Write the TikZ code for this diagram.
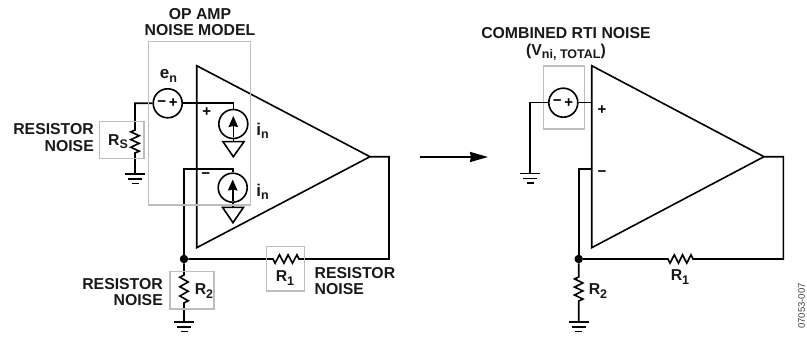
\documentclass[tikz,border=0pt]{standalone}
\usepackage{fontspec}
\setmainfont{Liberation Sans}
\usetikzlibrary{arrows.meta,calc}
\definecolor{boxgray}{RGB}{190,190,190}
\newcommand{\subx}[1]{\raisebox{-3.2pt}{\fontsize{12.5}{12.5}\selectfont #1}}
\tikzset{
  x=1pt,y=-1pt,
  wire/.style={line width=1.6pt,line join=miter,black},
  graybox/.style={draw=boxgray,line width=1.3pt},
  lab/.style={font=\bfseries\fontsize{15.8}{16.4}\selectfont,inner sep=0pt,text=black!90},
  biglab/.style={font=\bfseries\fontsize{17}{17}\selectfont,inner sep=0pt,text=black!90},
  srcc/.style={circle,draw=black,line width=1.6pt,fill=white,minimum size=29pt,inner sep=0pt},
  sym/.style={font=\bfseries\fontsize{15}{15}\selectfont,inner sep=0pt},
  junc/.style={circle,fill=black,minimum size=8.5pt,inner sep=0pt},
  headsrc/.style={-{Stealth[length=11pt,width=9.5pt,inset=1pt]}},
}
\newcommand{\zigv}[2]{% vertical resistor from #1 to #2
  ($(#1)!0.08!(#2)+(-4.2,0)$) -- ($(#1)!0.25!(#2)+(4.2,0)$) -- ($(#1)!0.42!(#2)+(-4.2,0)$) -- ($(#1)!0.58!(#2)+(4.2,0)$) -- ($(#1)!0.75!(#2)+(-4.2,0)$) -- ($(#1)!0.92!(#2)+(4.2,0)$) -- (#2)}
\newcommand{\zigh}[2]{% horizontal resistor from #1 to #2
  ($(#1)!0.08!(#2)+(0,-4.2)$) -- ($(#1)!0.25!(#2)+(0,4.2)$) -- ($(#1)!0.42!(#2)+(0,-4.2)$) -- ($(#1)!0.58!(#2)+(0,4.2)$) -- ($(#1)!0.75!(#2)+(0,-4.2)$) -- ($(#1)!0.92!(#2)+(0,4.2)$) -- (#2)}
\newcommand{\gnd}[1]{%
  \draw[wire] ($(#1)+(-10,0)$) -- ($(#1)+(10,0)$);
  \draw[wire] ($(#1)+(-7,5)$) -- ($(#1)+(7,5)$);
  \draw[wire] ($(#1)+(-3.5,9.5)$) -- ($(#1)+(3.5,9.5)$);}
\begin{document}
\begin{tikzpicture}
\useasboundingbox (0,0) rectangle (807,337);
% LEFT circuit coordinates
\coordinate (ampT) at (196.7,65.7);
\coordinate (ampB) at (196.7,247.7);
\coordinate (ampO) at (370,156.7);
\node[srcc] (en) at (167.7,103.3) {};
\node[srcc] (in1) at (233.3,124) {};
\node[srcc] (in2) at (232.7,187.7) {};
\node[junc] (j) at (184,259) {};
\coordinate (cL) at (135,103.3);
\coordinate (rsT) at (135,130);
\coordinate (rsB) at (135,153);
\coordinate (gL) at (135,174);
\coordinate (c1) at (233.3,103.3);
\coordinate (c2) at (184,169);
\coordinate (c3) at (232.7,169);
\coordinate (c4) at (389,156.7);
\coordinate (c5) at (389,259);
\coordinate (r1R) at (299,259);
\coordinate (r1L) at (273,259);
\coordinate (r2T) at (184,275);
\coordinate (r2B) at (184,303);
\coordinate (gR) at (184,322);
\draw[wire] (ampT) -- (ampO) -- (ampB) -- cycle;
\draw[wire] (en.west) -- (cL) -- (rsT) -- \zigv{rsT}{rsB} -- (gL);
\gnd{gL}
\draw[wire] (en.east) -- (c1) -- (in1.north);
\draw[wire] (j) -- (c2) -- (c3) -- (in2.north);
\draw[wire] (ampO) -- (c4) -- (c5) -- (r1R) -- \zigh{r1R}{r1L} -- (j);
\draw[wire] (j) -- (r2T) -- \zigv{r2T}{r2B} -- (gR);
\gnd{gR}
% current-source symbols
\node[sym] at ($(en)+(-6,0)$) {−};
\node[sym] at ($(en)+(5.5,0)$) {+};
\coordinate (t1) at (233.3,156.7);
\coordinate (t2) at (233,222.7);
\draw[wire,fill=white] (223,141.7) -- (244,141.7) -- (t1) -- cycle;
\draw[wire,fill=white] (222.5,207.3) -- (243.5,207.3) -- (t2) -- cycle;
\draw[wire] (in1.south) -- (233.3,141.7);
\draw[wire] (in2.south) -- (232.7,207.3);
\draw[wire,headsrc] (233.3,137) -- (233.3,116);
\draw[wire,headsrc] (232.7,200.5) -- (232.7,179.5);
\node[sym] at (206.7,112) {+};
\node[sym] at (205.7,176) {−};
% gray boxes
\draw[graybox] (148.7,41.3) rectangle (250.3,205);
\draw[graybox] (99.3,121.7) rectangle (144,158.3);
\draw[graybox] (266.7,246.7) rectangle (304.3,291);
\draw[graybox] (170,271.7) rectangle (214,309);
\draw[graybox] (543.3,66) rectangle (584.7,129);
% left labels
\node[lab,align=center] (t0) at (200,22) {OP AMP\\NOISE MODEL};
\node[biglab] at (168.5,76) {e\subx{n}};
\node[biglab] at (262.5,131) {i\subx{n}};
\node[biglab] at (262.5,192) {i\subx{n}};
\node[lab,align=right,anchor=east] at (94,137.5) {RESISTOR\\NOISE};
\node[lab] at (118,142) {R\subx{S}};
\node[lab] at (285,278) {R\subx{1}};
\node[lab] at (204,291) {R\subx{2}};
\node[lab,align=right,anchor=east] at (163,292) {RESISTOR\\NOISE};
\node[lab,align=left,anchor=west] at (314.5,281) {RESISTOR\\NOISE};
% arrow
\coordinate (aS) at (420,157);
\coordinate (aE) at (488,157);
\draw[line width=2pt,-{Stealth[length=18pt,width=10pt,inset=1pt]}] (aS) -- (aE);
% RIGHT circuit
\coordinate (bT) at (591.7,65.7);
\coordinate (bB) at (591.7,247.7);
\coordinate (bO) at (764,156.7);
\node[srcc] (en2) at (563.3,102.7) {};
\node[junc] (j2) at (578.7,259) {};
\coordinate (dL) at (530,102.7);
\coordinate (gL2) at (530,173.5);
\coordinate (dP) at (591.7,102.7);
\coordinate (dM) at (591.7,169);
\coordinate (dM2) at (578.7,169);
\coordinate (d4) at (783.3,156.7);
\coordinate (d5) at (783.3,259);
\coordinate (s1R) at (693,259);
\coordinate (s1L) at (668,259);
\coordinate (s2T) at (578.7,277);
\coordinate (s2B) at (578.7,301);
\coordinate (gR2) at (578.7,322);
\draw[wire] (bT) -- (bO) -- (bB) -- cycle;
\draw[wire] (en2.west) -- (dL) -- (gL2);
\gnd{gL2}
\draw[wire] (en2.east) -- (dP);
\draw[wire] (dM) -- (dM2) -- (j2);
\draw[wire] (bO) -- (d4) -- (d5) -- (s1R) -- \zigh{s1R}{s1L} -- (j2);
\draw[wire] (j2) -- (s2T) -- \zigv{s2T}{s2B} -- (gR2);
\gnd{gR2}
\node[sym] at ($(en2)+(-6,0)$) {−};
\node[sym] at ($(en2)+(5.5,0)$) {+};
\node[sym] at (602,110) {+};
\node[sym] at (602,174) {−};
\node[lab] at (566,33) {COMBINED RTI NOISE};
\node[lab] at (566,52) {(V\subx{ni, TOTAL})};
\node[lab] at (680,277) {R\subx{1}};
\node[lab] at (598,291) {R\subx{2}};
\node[rotate=90,inner sep=0pt,font=\fontsize{9.5}{9.5}\selectfont,text=black!75] at (801.5,306) {07053-007};
\end{tikzpicture}
\end{document}
